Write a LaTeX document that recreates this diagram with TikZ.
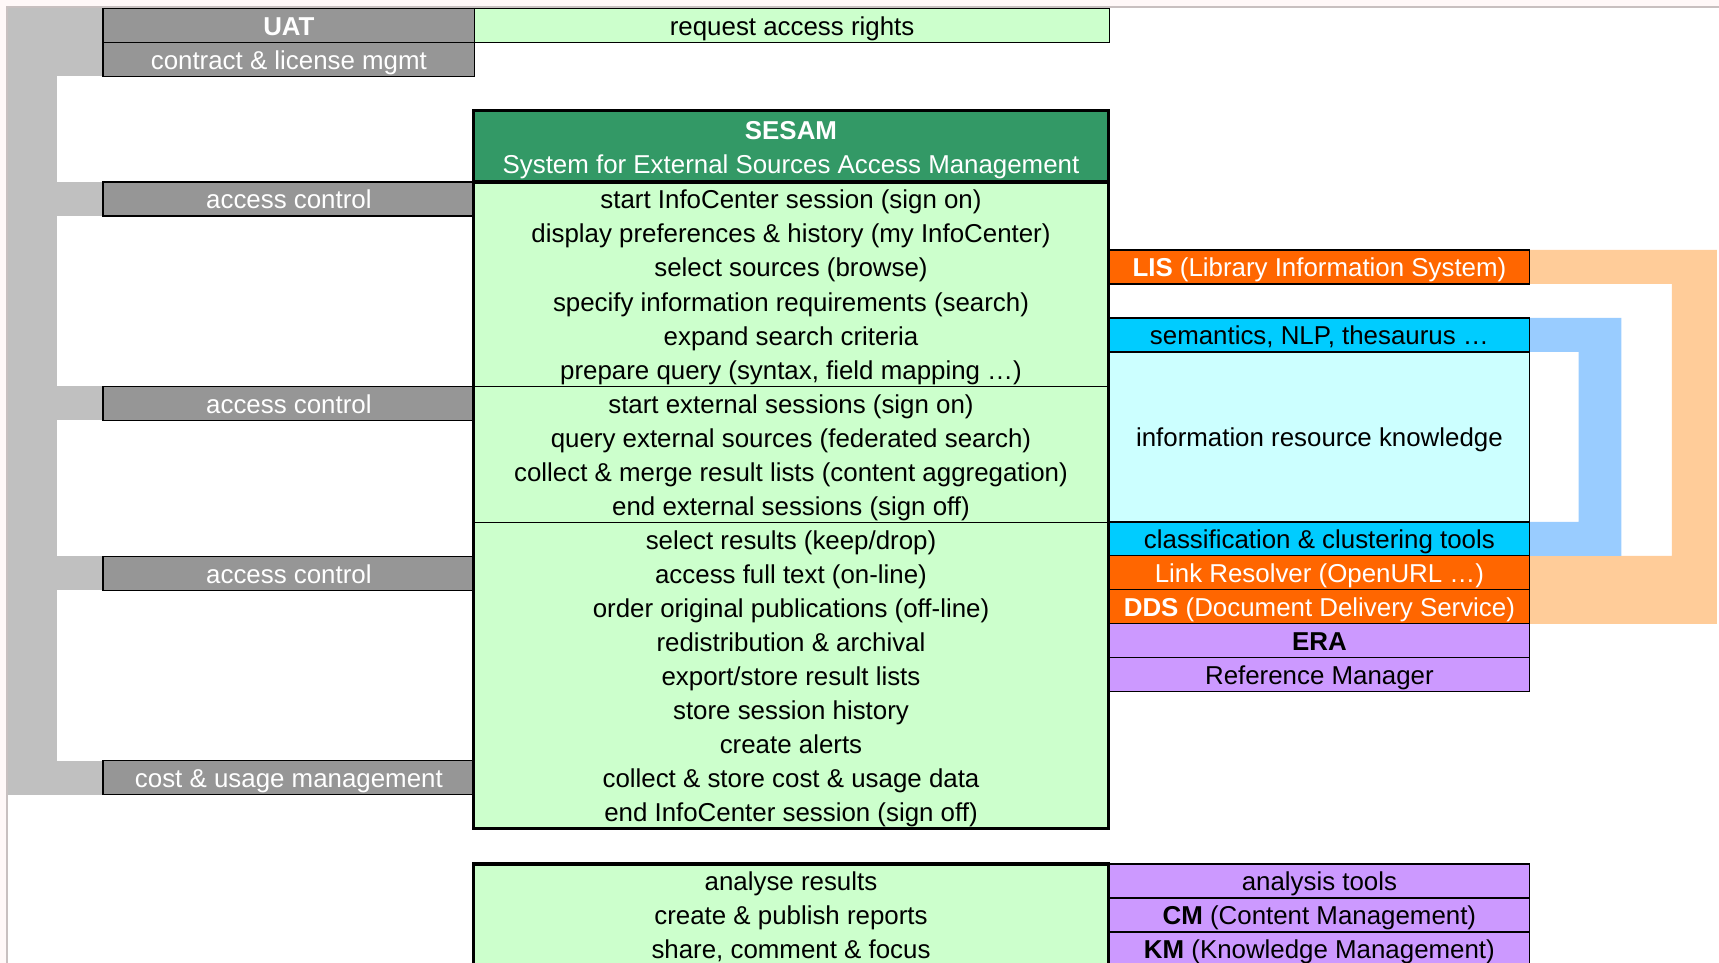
\documentclass[tikz,border=0pt]{standalone}
\usepackage{fontspec}
\setmainfont{Liberation Sans}
\definecolor{pagepink}{HTML}{FFF8F8}
\definecolor{framegray}{HTML}{C8C0C0}
\definecolor{bargray}{HTML}{C0C0C0}
\definecolor{boxgray}{HTML}{969696}
\definecolor{sesamgreen}{HTML}{339966}
\definecolor{palegreen}{HTML}{CCFFCC}
\definecolor{lisorange}{HTML}{FF6600}
\definecolor{paleorange}{HTML}{FFCC99}
\definecolor{skycyan}{HTML}{00CCFF}
\definecolor{palecyan}{HTML}{CCFFFF}
\definecolor{paleblue}{HTML}{99CCFF}
\definecolor{lilac}{HTML}{CC99FF}
\begin{document}
\begin{tikzpicture}[x=0.5pt,y=-0.5pt,
    every node/.style={font=\fontsize{11.8}{15.5}\selectfont,inner sep=0pt,outer sep=0pt,
      text height=10pt,text depth=1pt},
    cell/.style={draw=black,line width=0.6pt,minimum height=15.5pt},
    graycell/.style={cell,fill=boxgray,text=white,minimum width=169.5pt},
    greencell/.style={cell,fill=palegreen,minimum width=289.5pt},
    toolcell/.style={cell,minimum width=191.5pt},
    rowtext/.style={minimum width=289pt,minimum height=15.5pt},
    heavy/.style={line width=1.5pt}]
    \useasboundingbox (0,0) rectangle (1568,878);
    \clip (0,0) rectangle (1568,878);
    % page
    \fill[pagepink] (0,0) rectangle (1568,878);
    \fill[white] (6.4,6.4) rectangle (1568,878);
    \draw[framegray,line width=0.5pt] (6.4,878) -- (6.4,6.4) -- (1568,6.4);
    % grey bar on the left
    \fill[bargray] (7,7) rectangle (52,724.9);
    \fill[bargray] (7,7) rectangle (94,69);
    \foreach \y in {166,352.3,507.6,693.9} {
      \fill[bargray] (52,\y) rectangle (94,\y+31);
    }
    % brackets on the right
    \fill[paleorange] (1395,228) -- (1566,228) -- (1566,569) -- (1395,569)
      -- (1395,507) -- (1525,507) -- (1525,259) -- (1395,259) -- cycle;
    \fill[paleblue] (1395,290) -- (1479,290) -- (1479,507) -- (1395,507)
      -- (1395,476) -- (1440,476) -- (1440,321) -- (1395,321) -- cycle;
    % left column
    \node[graycell] (uat) at (263.5,23) {\textbf{UAT}};
    \node[graycell] (contract) at (263.5,54) {contract \& license mgmt};
    \foreach \y/\txt/\nm in {181.5/access control/acc1,367.8/access control/acc2,
        523.1/access control/acc3,709.4/cost \& usage management/cost} {
      \node[graycell] (\nm) at (263.5,\y) {\txt};
    }
    \node[greencell] (request) at (722.5,23) {request access rights};
    % SESAM
    \node[cell,heavy,fill=sesamgreen,text=white,minimum width=289.5pt,minimum height=32.5pt,
      align=center,text height=,text depth=] (sesam) at (721.5,133.5)
      {\rule{0pt}{11.6pt}\textbf{SESAM}\\System for External Sources Access Management};
    \node[cell,heavy,fill=palegreen,minimum width=289.5pt,minimum height=295pt,anchor=north west]
      (body) at (432,166) {};
    \draw[line width=0.6pt] (432,352.3) -- (1011,352.3);
    \draw[line width=0.6pt] (432,476.5) -- (1011,476.5);
    \foreach \txt [count=\i] in {start InfoCenter session (sign on),
        display preferences \& history (my InfoCenter),
        select sources (browse),
        specify information requirements (search),
        expand search criteria,
        {prepare query (syntax, field mapping …)},
        start external sessions (sign on),
        query external sources (federated search),
        collect \& merge result lists (content aggregation),
        end external sessions (sign off),
        select results (keep/drop),
        access full text (on-line),
        order original publications (off-line),
        redistribution \& archival,
        export/store result lists,
        store session history,
        create alerts,
        collect \& store cost \& usage data,
        end InfoCenter session (sign off)} {
      \node[rowtext] (row\i) at (721.5,166+\i*31.05-15.5) {\txt};
    }
    % tools on the right
    \node[toolcell,fill=lisorange,text=white] (lis) at (1203.5,243.5)
      {\textbf{LIS} (Library Information System)};
    \node[toolcell,fill=skycyan] (semantics) at (1203.5,305.5) {semantics, NLP, thesaurus …};
    \node[toolcell,fill=palecyan,minimum height=77.5pt] (knowledge) at (1203.5,398.5)
      {information resource knowledge};
    \node[toolcell,fill=skycyan] (classify) at (1203.5,491.5) {classification \& clustering tools};
    \node[toolcell,fill=lisorange,text=white] (resolver) at (1203.5,522.5) {Link Resolver (OpenURL …)};
    \node[toolcell,fill=lisorange,text=white] (dds) at (1203.5,553.5)
      {\textbf{DDS} (Document Delivery Service)};
    \node[toolcell,fill=lilac] (era) at (1203.5,584.5) {\textbf{ERA}};
    \node[toolcell,fill=lilac] (refman) at (1203.5,615.5) {Reference Manager};
    % analysis part
    \node[cell,heavy,fill=palegreen,minimum width=289.5pt,minimum height=60pt,anchor=north west]
      (analyse) at (432,788) {};
    \foreach \txt [count=\i] in {analyse results,create \& publish reports,
        {share, comment \& focus}} {
      \node[rowtext] (arow\i) at (721.5,788+\i*31-15.5) {\txt};
    }
    \node[toolcell,fill=lilac] (atools) at (1203.5,803.5) {analysis tools};
    \node[toolcell,fill=lilac] (cm) at (1203.5,834.5) {\textbf{CM} (Content Management)};
    \node[toolcell,fill=lilac] (km) at (1203.5,865.5) {\textbf{KM} (Knowledge Management)};
\end{tikzpicture}
\end{document}
